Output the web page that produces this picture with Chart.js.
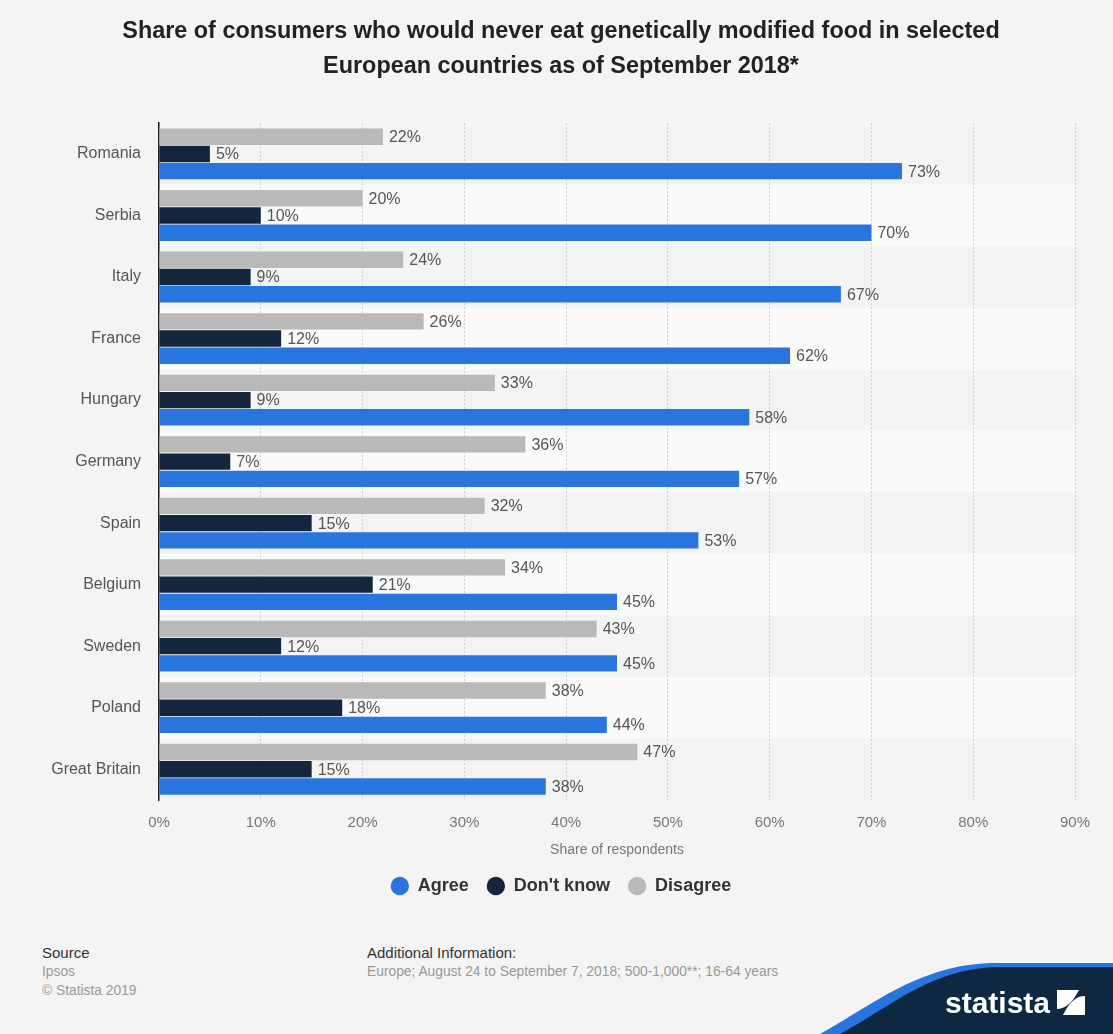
<!DOCTYPE html>
<html>
<head>
<meta charset="utf-8">
<script src="https://cdn.jsdelivr.net/npm/chart.js@4"></script>
<style>
    html, body { margin: 0; padding: 0; background: #f4f4f4; }
    body { width: 1113px; height: 1034px; position: relative; overflow: hidden; font-family: "Liberation Sans", Arial, sans-serif; }
    #wrap { position: absolute; left: 0; top: 0; width: 1113px; height: 905px; }
    .foot { position: absolute; line-height: 19px; }
    .foot .head { color: #333; font-size: 15px; }
    .foot .sub { color: #999; font-size: 13.8px; }
    #logo { position: absolute; left: 0; top: 0; }
</style>
</head>
<body>
<div id="wrap"><canvas id="chart"></canvas></div>

<div class="foot" style="left:42px; top:943px;">
    <div class="head">Source</div>
    <div class="sub">Ipsos</div>
    <div class="sub">© Statista 2019</div>
</div>
<div class="foot" style="left:367px; top:943px;">
    <div class="head">Additional Information:</div>
    <div class="sub">Europe; August 24 to September 7, 2018; 500-1,000**; 16-64 years</div>
</div>

<svg id="logo" width="1113" height="1034">
    <path d="M820,1034 C880,1000 920,966 990,963 L1113,963 L1113,1034 Z" fill="#2876dd"/>
    <path d="M840,1034 C895,1004 930,970 995,967 L1113,967 L1113,1034 Z" fill="#0d2840"/>
    <text x="945" y="1013" fill="#fff" font-family="Liberation Sans Narrow, Liberation Sans, Arial" font-weight="bold" font-size="30">statista</text>
    <rect x="1057" y="990" width="28" height="25" fill="#fff"/>
    <path d="M1057,1015 L1063,1015 C1070,1000 1078,996 1085,996 L1085,990 L1079,990 C1072,1004 1064,1009 1057,1009 Z" fill="#0d2840"/>
</svg>

<script>
    const countries = ['Romania', 'Serbia', 'Italy', 'France', 'Hungary', 'Germany', 'Spain', 'Belgium', 'Sweden', 'Poland', 'Great Britain'];
    const agree = [73, 70, 67, 62, 58, 57, 53, 45, 45, 44, 38];
    const dontKnow = [5, 10, 9, 12, 9, 7, 15, 21, 12, 18, 15];
    const disagree = [22, 20, 24, 26, 33, 36, 32, 34, 43, 38, 47];
    const xTicks = [0, 10, 20, 30, 40, 50, 60, 70, 80, 90];

    const fontFamily = '"Liberation Sans", Arial, sans-serif';

    // alternate row shading behind the bars
    const bandPlugin = {
        id: 'bands',
        beforeDraw(chart) {
            const { ctx, chartArea, scales } = chart;
            const band = (chartArea.bottom - chartArea.top) / countries.length;
            ctx.save();
            ctx.fillStyle = '#fafafa';
            countries.forEach((c, i) => {
                if (i % 2 === 1) {
                    const y = scales.y.getPixelForValue(i) - band / 2;
                    ctx.fillRect(chartArea.left, y, chartArea.right - chartArea.left, band);
                }
            });
            ctx.restore();
        }
    };

    // percentage labels at the end of each bar
    const valueLabels = {
        id: 'valueLabels',
        afterDatasetsDraw(chart) {
            const ctx = chart.ctx;
            ctx.save();
            ctx.font = '16px ' + fontFamily;
            ctx.fillStyle = '#555';
            ctx.textBaseline = 'middle';
            ctx.textAlign = 'left';
            chart.data.datasets.forEach((ds, di) => {
                chart.getDatasetMeta(di).data.forEach((bar, i) => {
                    ctx.fillText(ds.data[i] + '%', bar.x + 6, bar.y + 1);
                });
            });
            ctx.restore();
        }
    };

    new Chart(document.getElementById('chart'), {
        type: 'bar',
        data: {
            labels: countries,
            datasets: [
                { label: 'Disagree', data: disagree, backgroundColor: '#b9b9b9' },
                { label: "Don't know", data: dontKnow, backgroundColor: '#13263d' },
                { label: 'Agree', data: agree, backgroundColor: '#2876dd' }
            ]
        },
        options: {
            indexAxis: 'y',
            responsive: true,
            maintainAspectRatio: false,
            animation: false,
            categoryPercentage: 0.84,
            barPercentage: 0.95,
            layout: { padding: { left: 47, right: 38, top: 0, bottom: 0 } },
            plugins: {
                title: {
                    display: true,
                    text: ['Share of consumers who would never eat genetically modified food in selected', 'European countries as of September 2018*'],
                    color: '#222',
                    font: { family: fontFamily, size: 23.4, weight: 'bold', lineHeight: 1.5 },
                    padding: { top: 14, bottom: 39 }
                },
                legend: {
                    position: 'bottom',
                    reverse: true,
                    labels: {
                        usePointStyle: true,
                        pointStyle: 'circle',
                        boxWidth: 18,
                        boxHeight: 13,
                        padding: 18,
                        color: '#333',
                        font: { family: fontFamily, size: 18, weight: 'bold' }
                    }
                },
                tooltip: { enabled: false }
            },
            scales: {
                x: {
                    min: 0,
                    max: 90,
                    afterBuildTicks(scale) {
                        scale.ticks = xTicks.map(v => ({ value: v }));
                    },
                    afterFit(scale) { scale.height = 59; },
                    grid: { color: '#cdcdcd', drawTicks: false },
                    border: { display: false, dash: [2, 2] },
                    ticks: {
                        color: '#777',
                        padding: 14,
                        font: { family: fontFamily, size: 15 },
                        callback: v => v + '%'
                    },
                    title: {
                        display: true,
                        text: 'Share of respondents',
                        color: '#777',
                        font: { family: fontFamily, size: 14 },
                        padding: { top: 0, bottom: 0 }
                    }
                },
                y: {
                    afterFit(scale) { scale.width = 112; },
                    grid: { display: false, drawTicks: false },
                    border: { display: true, color: '#222', width: 1.5 },
                    ticks: {
                        color: '#555',
                        padding: 18,
                        font: { family: fontFamily, size: 16 }
                    }
                }
            }
        },
        plugins: [bandPlugin, valueLabels]
    });
</script>
</body>
</html>
